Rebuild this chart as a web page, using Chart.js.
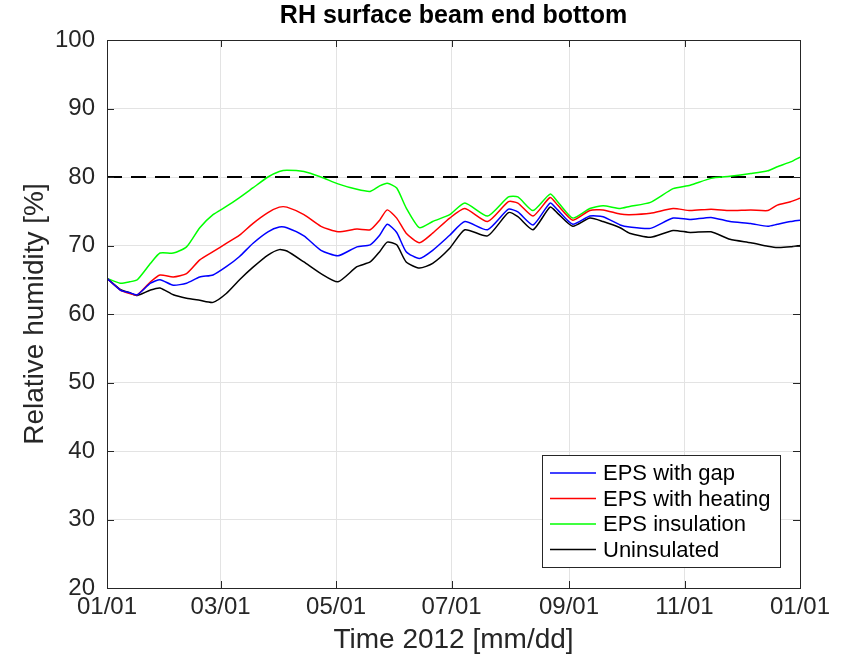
<!DOCTYPE html>
<html>
<head>
<meta charset="utf-8">
<script src="https://cdn.jsdelivr.net/npm/chart.js@4.4.1/dist/chart.umd.min.js"></script>
<style>
  html, body { margin: 0; padding: 0; background: #fff; }
</style>
</head>
<body>
<canvas id="chart" width="844" height="666"></canvas>
<script>
// day of year 2012 (0 = Jan 1) and RH readings [%]
const dayPts = [0, 7, 12, 16, 23, 28, 35, 42, 49, 56, 63, 70, 77, 85, 91, 95, 104, 113, 122, 132,
    139, 144, 148, 153, 158, 165, 172, 181, 189, 201, 212, 217, 225, 234, 238, 246, 255, 262, 271, 276,
    287, 299, 308, 319, 329, 340, 349, 354, 361, 366];
const gapRH = [65.2, 63.5, 63.1, 62.8, 64.5, 65.0, 64.2, 64.5, 65.4, 65.7, 66.9, 68.4, 70.3, 72.0, 72.7, 72.6, 71.4, 69.3, 68.5, 69.8,
    70.1, 71.5, 73.1, 71.9, 69.1, 68.1, 69.3, 71.5, 73.5, 72.3, 75.3, 74.9, 73.0, 76.2, 75.2, 73.1, 74.3, 74.2, 73.0, 72.7,
    72.5, 74.0, 73.8, 74.1, 73.5, 73.2, 72.8, 73.1, 73.5, 73.7];
const heatingRH = [65.2, 63.5, 63.0, 62.8, 64.7, 65.7, 65.4, 65.9, 67.9, 69.1, 70.3, 71.5, 73.2, 74.8, 75.6, 75.6, 74.5, 72.8, 72.0, 72.4,
    72.3, 73.7, 75.2, 74.0, 71.8, 70.4, 71.8, 74.0, 75.4, 73.5, 76.4, 76.2, 74.3, 77.0, 75.9, 73.7, 75.1, 75.2, 74.6, 74.5,
    74.7, 75.4, 75.1, 75.3, 75.1, 75.2, 75.1, 75.9, 76.4, 76.9];
const insulationRH = [65.2, 64.5, 64.7, 65.0, 67.4, 68.9, 68.9, 69.8, 72.6, 74.5, 75.7, 77.0, 78.4, 80.0, 80.8, 81.0, 80.8, 80.0, 79.0, 78.2,
    77.9, 78.7, 79.1, 78.4, 75.5, 72.6, 73.5, 74.5, 76.2, 74.3, 77.1, 77.1, 75.1, 77.5, 76.4, 74.0, 75.4, 75.8, 75.4, 75.7,
    76.3, 78.3, 78.8, 79.8, 80.1, 80.5, 80.9, 81.5, 82.2, 82.9];
const uninsulatedRH = [65.2, 63.6, 63.1, 62.7, 63.5, 63.8, 62.8, 62.3, 62.0, 61.7, 63.0, 65.0, 66.8, 68.6, 69.4, 69.2, 67.6, 65.9, 64.7, 66.9,
    67.6, 69.1, 70.5, 70.1, 67.6, 66.7, 67.4, 69.6, 72.3, 71.4, 74.8, 74.2, 72.3, 75.6, 74.7, 72.8, 74.0, 73.5, 72.6, 71.8,
    71.2, 72.2, 71.9, 72.0, 70.9, 70.4, 69.9, 69.7, 69.8, 70.0];
const limitDays = [0, 366];
const limitRH = [80, 80];

const tickDays = [0, 60, 121, 182, 244, 305, 366];
const tickLabels = ['01/01', '03/01', '05/01', '07/01', '09/01', '11/01', '01/01'];
const seriesNames = ['EPS with gap', 'EPS with heating', 'EPS insulation', 'Uninsulated'];
const seriesColors = ['#0000ff', '#ff0000', '#00ff00', '#000000'];

const FONT = '"Liberation Sans", Arial, Helvetica, sans-serif';
const TXT = '#262626';

function pts(xs, ys) {
    return xs.map((d, i) => ({ x: d, y: ys[i] }));
}

const lines = [gapRH, heatingRH, insulationRH, uninsulatedRH].map((ys, i) => ({
    label: seriesNames[i],
    data: pts(dayPts, ys),
    borderColor: seriesColors[i],
    borderWidth: 1.5,
    pointRadius: 0,
    tension: 0.2,
    fill: false,
}));
lines.push({
    label: 'limit',
    data: pts(limitDays, limitRH),
    borderColor: '#000000',
    borderWidth: 2,
    borderDash: [15, 9],
    pointRadius: 0,
    fill: false,
});

// MATLAB-like title, box with inward ticks, legend inside the axes
const matlabLook = {
    id: 'matlabLook',
    afterDraw(chart) {
        const ctx = chart.ctx;
        const a = chart.chartArea;
        const xs = chart.scales.x, ys = chart.scales.y;
        ctx.save();

        // title
        ctx.fillStyle = '#000';
        ctx.font = 'bold 25px ' + FONT;
        ctx.textAlign = 'center';
        ctx.textBaseline = 'middle';
        ctx.fillText('RH surface beam end bottom', (a.left + a.right) / 2, 16);

        // box + ticks
        ctx.strokeStyle = TXT;
        ctx.lineWidth = 1;
        ctx.strokeRect(a.left + 0.5, a.top + 0.5, a.right - a.left, a.bottom - a.top);
        const tl = 7;
        ctx.beginPath();
        tickDays.forEach(d => {
            const px = Math.round(xs.getPixelForValue(d)) + 0.5;
            ctx.moveTo(px, a.bottom); ctx.lineTo(px, a.bottom - tl);
            ctx.moveTo(px, a.top); ctx.lineTo(px, a.top + tl);
        });
        ys.ticks.forEach(t => {
            const py = Math.round(ys.getPixelForValue(t.value)) + 0.5;
            ctx.moveTo(a.left, py); ctx.lineTo(a.left + tl, py);
            ctx.moveTo(a.right, py); ctx.lineTo(a.right - tl, py);
        });
        ctx.stroke();

        // legend
        const lw = 238, lh = 112;
        const lx = a.right - 20 - lw, ly = a.bottom - 21 - lh;
        ctx.fillStyle = '#fff';
        ctx.fillRect(lx, ly, lw, lh);
        ctx.strokeStyle = TXT;
        ctx.strokeRect(lx + 0.5, ly + 0.5, lw, lh);
        ctx.font = '22px ' + FONT;
        ctx.textAlign = 'left';
        seriesNames.forEach((name, i) => {
            const cy = ly + 18 + i * 25.5;
            ctx.strokeStyle = seriesColors[i];
            ctx.lineWidth = 1.5;
            ctx.beginPath();
            ctx.moveTo(lx + 8, cy); ctx.lineTo(lx + 54, cy);
            ctx.stroke();
            ctx.fillStyle = '#000';
            ctx.fillText(name, lx + 61, cy + 1);
        });
        ctx.restore();
    }
};

new Chart(document.getElementById('chart'), {
    type: 'line',
    data: { datasets: lines },
    options: {
        responsive: false,
        animation: false,
        layout: { padding: { top: 40, right: 44, bottom: 0, left: 0 } },
        plugins: {
            legend: { display: false },
            tooltip: { enabled: false },
        },
        scales: {
            x: {
                type: 'linear',
                min: 0,
                max: 366,
                afterBuildTicks: (s) => { s.ticks = tickDays.map(v => ({ value: v })); },
                ticks: {
                    autoSkip: false,
                    maxRotation: 0,
                    padding: 5,
                    color: TXT,
                    font: { family: FONT, size: 24 },
                    callback: (v, i) => tickLabels[i],
                },
                grid: { color: '#e3e3e3', drawTicks: false },
                border: { color: TXT },
                title: {
                    display: true,
                    text: 'Time 2012 [mm/dd]',
                    color: TXT,
                    font: { family: FONT, size: 28 },
                    padding: { top: 0, bottom: 9 },
                },
                afterFit: (s) => { s.height = 78; },
            },
            y: {
                min: 20,
                max: 100,
                ticks: {
                    stepSize: 10,
                    padding: 12,
                    color: TXT,
                    font: { family: FONT, size: 24 },
                },
                grid: { color: '#e3e3e3', drawTicks: false },
                border: { color: TXT },
                title: {
                    display: true,
                    text: 'Relative humidity [%]',
                    color: TXT,
                    font: { family: FONT, size: 28 },
                    padding: { top: 18, bottom: 0 },
                },
                afterFit: (s) => { s.width = 107; },
            },
        },
    },
    plugins: [matlabLook],
});
</script>
</body>
</html>
